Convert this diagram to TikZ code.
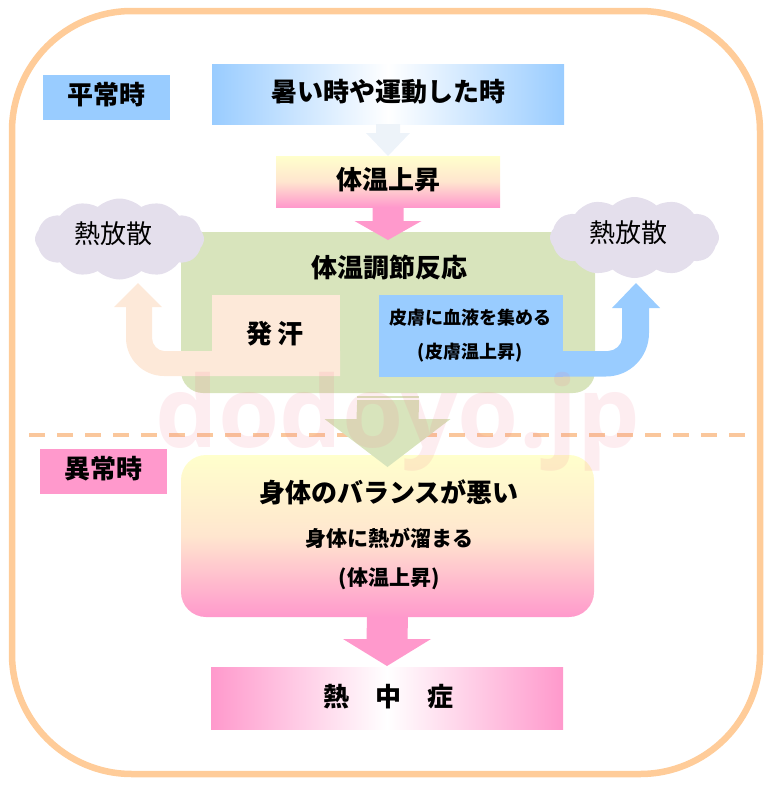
\documentclass[tikz,border=0pt]{standalone}
\usepackage{fontspec}
\usepackage{xcolor}
\usetikzlibrary{calc,shapes.symbols}
\newfontfamily\jpfont{Noto Sans CJK JP}
\newfontfamily\markfont{Open Sans}
\definecolor{frameline}{HTML}{FFCC99}
\definecolor{sky}{HTML}{99CCFF}
\definecolor{rose}{HTML}{FF99CC}
\definecolor{cream}{HTML}{FFFFCC}
\definecolor{blush}{HTML}{FFE6CF}
\definecolor{moss}{HTML}{D8E4BC}
\definecolor{peach}{HTML}{FDE9D9}
\definecolor{haze}{HTML}{E4DFEC}
\definecolor{pale}{HTML}{EDF3F9}
\definecolor{dashline}{HTML}{FAC79C}
\definecolor{stamp}{HTML}{F2728C}
% down arrow: colour, from node, to node, shaft half, head half, head length, tip offset
\newcommand{\downblock}[7]{
  \fill[#1] ($(#2.south)+(-#4,0)$) -- ($(#2.south)+(#4,0)$)
    -- ($(#3.north)+(#4,#7-#6)$) -- ($(#3.north)+(#5,#7-#6)$)
    -- ($(#3.north)+(0,#7)$)
    -- ($(#3.north)+(-#5,#7-#6)$) -- ($(#3.north)+(-#4,#7-#6)$) -- cycle;
}
\tikzset{
  box/.style={inner sep=0pt,outer sep=0pt},
  head/.style={font=\jpfont\bfseries\fontsize{26}{30}\selectfont,inner sep=0pt},
  sub/.style={font=\jpfont\bfseries\fontsize{21}{24}\selectfont,inner sep=0pt},
  small/.style={font=\jpfont\bfseries\fontsize{18}{21}\selectfont,inner sep=0pt},
  thin/.style={font=\jpfont\fontsize{26}{30}\selectfont,inner sep=0pt},
  puff/.style={cloud,cloud puffs=12,cloud puff arc=85,aspect=2.1,fill=haze,inner sep=0pt,
    minimum width=169,minimum height=81},
}
\begin{document}
\begin{tikzpicture}[x=1pt,y=-1pt]
  \useasboundingbox (0,0) rectangle (773,787);
  % Outer frame
  \draw[frameline,line width=6.5pt,rounded corners=120pt] (12,11) rectangle (760,774);

  % Normal state, upper half
  \node[box,fill=sky,minimum width=127,minimum height=45] (normal) at (106.5,97.5) {};
  \node[head] (normaltext) at (106,95) {平常時};
  \node[box,left color=sky,right color=sky,middle color=white,minimum width=352,minimum height=60] (hot) at (388,94) {};
  \node[head] (hottext) at (388,92) {暑い時や運動した時};
  \node[box,top color=cream,bottom color=rose,middle color=blush,minimum width=224,minimum height=51] (rise) at (388,181.5) {};
  \node[head] (risetext) at (388,180) {体温上昇};
  \downblock{pale}{hot}{rise}{12}{22}{23}{0}

  % Regulation block
  \node[box,fill=moss,rounded corners=22pt,minimum width=414,minimum height=161] (react) at (388,312.5) {};
  \node[head] (reacttext) at (389,268) {体温調節反応};
  \downblock{rose}{rise}{react}{15.5}{33.5}{19}{8}
  \node[box,fill=peach,minimum width=128,minimum height=81] (sweat) at (276,335.5) {};
  \node[head] (sweattext) at (275,334) {発 汗};
  \node[box,fill=sky,minimum width=184,minimum height=81.5] (skin) at (471,335.75) {};
  \node[small] (skintext) at (470,318) {皮膚に血液を集める};
  \node[small] (skinsub) at (470,353) {(皮膚温上昇)};

  % Clouds
  \node[puff] (heatl) at (119.5,239) {};
  \node[puff] (heatr) at (634.5,237.5) {};
  \node[thin] (heatltext) at (113,234) {熱放散};
  \node[thin] (heatrtext) at (628,233) {熱放散};

  % Bent arrows up to the clouds
  \coordinate (sweattip) at (138,283);
  \coordinate (skintip) at (636,283);
  \fill[peach] (sweat.south east) -- (164,376) .. controls (143,376) and (126,359) .. (126,338)
    -- (126,307) -- (114,307) -- (sweattip) -- (162,307) -- (152,307) -- (152,338)
    .. controls (152,345) and (158,351) .. (164,351) -- (sweat.east |- 0,351) -- cycle;
  \fill[sky] (skin.south east) -- (606,376.5) .. controls (630,376.5) and (649,357) .. (649,333)
    -- (649,308) -- (660,308) -- (skintip) -- (612,308) -- (622,308) -- (622,338)
    .. controls (622,345) and (615,351) .. (608,351) -- (skin.east |- 0,351) -- cycle;

  % Divider
  \draw[dashline,line width=4pt,dash pattern=on 16pt off 12pt] (29,435) -- (745,435);

  % Abnormal state, lower half
  \node[box,fill=rose,minimum width=127,minimum height=45] (abnormal) at (103.5,471.5) {};
  \node[head] (abnormaltext) at (103,469) {異常時};
  \node[box,rounded corners=25pt,top color=cream,bottom color=rose,middle color=blush,minimum width=413,minimum height=162] (body) at (387.5,536) {};
  \node[head] (bodytext) at (389,492) {身体のバランスが悪い};
  \node[sub] (bodyfirst) at (389,538) {身体に熱が溜まる};
  \node[sub] (bodysecond) at (389,579) {(体温上昇)};
  \node[box,left color=rose,right color=rose,middle color=white,minimum width=352,minimum height=62] (fever) at (387,698) {};
  \node[head] (fevertext) at (388.5,697) {熱　中　症};
  \downblock{rose}{body}{fever}{20.5}{44}{27}{-1}

  % Striped top of the green arrow
  \coordinate (stripe) at (388,396);
  \coordinate (stripeend) at (388,405);
  \fill[moss] ($(stripe)+(-31,0)$) rectangle ($(stripe)+(31,2)$);
  \fill[moss] ($(stripe)+(-31,4)$) rectangle ($(stripe)+(31,9)$);
  \downblock{moss}{stripeend}{body}{31}{63}{48}{12}

  % Watermark
  \node[font=\markfont\bfseries\fontsize{99}{110}\selectfont,text=stamp,opacity=0.13,inner sep=0pt,anchor=base] (stamp) at (398,447) {dodoyo.jp};
\end{tikzpicture}
\end{document}
